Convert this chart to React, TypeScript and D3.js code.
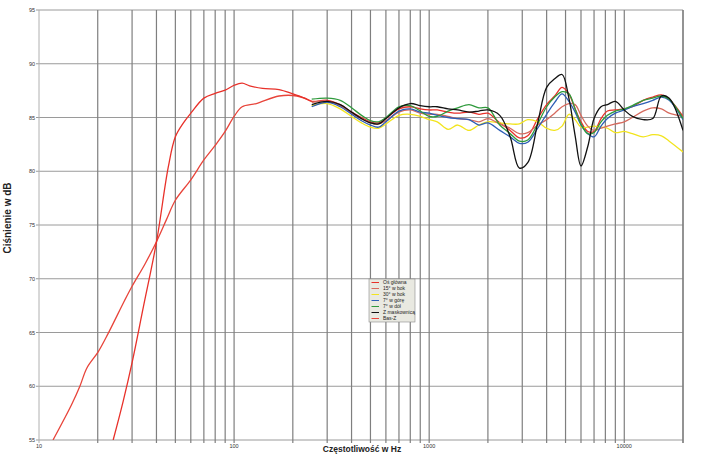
import React from "react";
import * as d3 from "d3";

// ---- data ----
const seriesNames = ["Oś główna", "15° w bok", "30° w bok", "7° w górę", "7° w dół", "Z maskownicą", "Bas-Z"];
const seriesColors = ["#e8312a", "#d66a5e", "#f2e41e", "#2d5eb5", "#2f9a3c", "#111111", "#e8443a"];

// low-frequency parts (red curves)
const bassMainFreqs = [24, 27, 30, 34.3, 40, 46, 50, 55, 60, 70, 80, 90, 100, 110, 120, 140, 170, 200, 230, 250];
const bassMainDb = [55, 58.6, 62.2, 67.4, 73.4, 80.4, 83.2, 84.5, 85.4, 86.8, 87.25, 87.55, 88.0, 88.2, 87.95, 87.7, 87.6, 87.2, 86.8, 86.5];
const bassZFreqs = [11.8, 14.7, 16.2, 17.6, 20.1, 22.6, 27.5, 30, 35, 40, 45, 50, 60, 70, 80, 90, 100, 110, 130, 170, 210, 250];
const bassZDb = [55, 58.3, 60.0, 61.7, 63.2, 64.9, 68.0, 69.3, 71.4, 73.45, 75.5, 77.3, 79.2, 81.05, 82.4, 83.7, 85.1, 86.0, 86.3, 87.0, 87.0, 86.5];

// measurement grid above 250 Hz
const freqs = [250, 300, 350, 400, 450, 500, 550, 600, 700, 800, 900, 1000, 1100, 1250, 1400, 1600, 1800, 2000, 2300, 2600, 2900, 3200, 3600, 4000, 4400, 4800, 5200, 5600, 6000, 6500, 7000, 7600, 8200, 9000, 10000, 11000, 12500, 14000, 15500, 17000, 20000];
const osGlowna = [86.5, 86.6, 86.2, 85.5, 85.0, 84.6, 84.5, 84.9, 85.8, 86.0, 85.8, 85.7, 85.7, 85.5, 85.4, 85.5, 85.3, 85.4, 84.5, 83.8, 83.1, 83.3, 84.9, 86.2, 87.0, 87.8, 87.2, 85.8, 84.6, 83.7, 83.7, 84.9, 85.6, 85.7, 85.8, 86.0, 86.6, 86.9, 87.1, 86.7, 85.1];
const bok15 = [86.4, 86.5, 86.1, 85.4, 84.9, 84.5, 84.4, 84.7, 85.5, 85.7, 85.4, 85.3, 85.3, 85.1, 84.9, 84.8, 84.6, 84.9, 84.4, 84.0, 83.5, 83.6, 84.3, 84.8, 85.4, 86.0, 86.3, 86.2, 85.2, 84.2, 83.8, 84.0, 84.2, 84.4, 84.6, 85.0, 85.6, 85.9, 85.8, 85.4, 85.1];
const bok30 = [86.1, 86.3, 85.8, 85.1, 84.5, 84.1, 84.0, 84.4, 85.2, 85.3, 85.1, 84.8, 84.6, 83.9, 84.3, 83.8, 84.3, 84.6, 84.5, 84.4, 84.4, 84.8, 84.6, 84.0, 83.8, 84.2, 85.3, 84.8, 84.1, 84.1, 84.2, 84.1, 84.0, 83.6, 83.7, 83.5, 83.2, 83.4, 83.3, 82.8, 81.8];
const gora7 = [86.0, 86.4, 86.0, 85.3, 84.7, 84.3, 84.1, 84.6, 85.6, 85.8, 85.5, 85.4, 85.2, 85.0, 84.9, 84.8, 84.3, 84.5, 83.8, 83.2, 82.6, 82.7, 84.0, 85.3, 86.4, 87.2, 86.5, 85.5, 84.3, 83.5, 83.2, 84.2, 84.9, 85.4, 85.7, 86.0, 86.3, 86.6, 86.9, 86.6, 84.8];
const dol7 = [86.7, 86.8, 86.6, 85.9, 85.2, 84.7, 84.6, 85.0, 86.0, 86.1, 85.6, 85.1, 85.1, 85.6, 85.9, 86.2, 85.9, 85.9, 84.3, 83.5, 82.8, 82.9, 84.4, 86.0, 86.9, 87.4, 87.2, 85.8, 84.4, 83.5, 83.6, 84.6, 85.2, 85.6, 85.8, 86.1, 86.6, 86.8, 87.0, 86.7, 84.9];
const maskownica = [86.2, 86.5, 86.2, 85.5, 84.9, 84.5, 84.4, 84.9, 85.9, 86.3, 86.1, 86.0, 86.0, 85.8, 85.7, 85.5, 85.6, 85.7, 85.2, 83.2, 80.3, 80.8, 84.5, 87.8, 88.6, 89.0, 86.8, 83.3, 80.5, 82.3, 84.9, 86.0, 86.2, 86.5, 85.7, 85.1, 84.8, 84.9, 87.0, 86.8, 83.8];

const yTicks = [55, 60, 65, 70, 75, 80, 85, 90, 95];
const xTickLabels = [10, 100, 1000, 10000];
const gridDecades = [10, 100, 1000, 10000];

// ---- layout ----
const W = 708;
const H = 454;
const x = d3.scaleLog().domain([10, 20000]).range([39, 683]);
const y = d3.scaleLinear().domain([55, 95]).range([440, 10]);

type P = [number, number];

const zip = (f: number[], v: number[]): P[] => f.map((fr, i) => [fr, v[i]] as P);

const seriesData: P[][] = [
  [...zip(bassMainFreqs, bassMainDb).slice(0, -1), ...zip(freqs, osGlowna)],
  zip(freqs, bok15),
  zip(freqs, bok30),
  zip(freqs, gora7),
  zip(freqs, dol7),
  zip(freqs, maskownica),
  zip(bassZFreqs, bassZDb),
];

const drawOrder = [6, 0, 2, 1, 3, 4, 5];

export default function App() {
  const line = d3
    .line<P>()
    .x((d) => x(d[0]))
    .y((d) => y(d[1]))
    .curve(d3.curveCatmullRom.alpha(0.5));

  const vGrid: number[] = [];
  gridDecades.forEach((dec) => {
    for (let k = 1; k <= 9; k++) {
      const f = dec * k;
      if (f <= 20000) vGrid.push(f);
    }
  });
  vGrid.push(20000);

  const font = "'Liberation Sans', Arial, sans-serif";
  const legendX = 369;
  const legendY = 279;

  return (
    <svg
      width={W}
      height={H}
      viewBox={`0 0 ${W} ${H}`}
      style={{ position: "absolute", left: 0, top: 0, background: "#fff" }}
      fontFamily={font}
    >
      <defs>
        <clipPath id="plot">
          <rect x={39} y={10} width={644} height={430} />
        </clipPath>
      </defs>
      {/* horizontal grid */}
      {yTicks.map((t) => (
        <line key={"h" + t} x1={36} x2={683} y1={y(t)} y2={y(t)} stroke="#9a9a9a" strokeWidth={1} />
      ))}
      {/* vertical grid */}
      {vGrid.map((f) => (
        <line
          key={"v" + f}
          x1={x(f)}
          x2={x(f)}
          y1={10}
          y2={443}
          stroke={f === 10 ? "#b0b0b0" : "#7f7f7f"}
          strokeWidth={f === 10 ? 1 : 1.2}
        />
      ))}
      {/* y tick labels */}
      {yTicks.map((t) => (
        <text key={"yl" + t} x={35} y={y(t) + 2} fontSize={5.5} textAnchor="end" fill="#333">
          {t}
        </text>
      ))}
      {/* x tick labels */}
      {xTickLabels.map((t) => (
        <text key={"xl" + t} x={x(t)} y={448} fontSize={5.5} textAnchor="middle" fill="#333">
          {t}
        </text>
      ))}
      {/* curves */}
      <g clipPath="url(#plot)">
        {drawOrder.map((i) => (
          <path
            key={"s" + i}
            d={line(seriesData[i]) || ""}
            fill="none"
            stroke={seriesColors[i]}
            strokeWidth={1.3}
          />
        ))}
      </g>
      {/* legend */}
      <rect x={legendX} y={legendY} width={46} height={43} fill="#e9e9e1" stroke="#8a8a8a" strokeWidth={0.6} />
      {seriesNames.map((n, i) => (
        <g key={"lg" + i}>
          <line
            x1={legendX + 2.5}
            x2={legendX + 10}
            y1={legendY + 3.5 + i * 6}
            y2={legendY + 3.5 + i * 6}
            stroke={seriesColors[i]}
            strokeWidth={1}
          />
          <text x={legendX + 14} y={legendY + 5.3 + i * 6} fontSize={5} fill="#222">
            {n}
          </text>
        </g>
      ))}
      {/* axis titles */}
      <text x={362} y={452} fontSize={8.5} fontWeight="bold" textAnchor="middle" fill="#222">
        Częstotliwość w Hz
      </text>
      <text
        transform="translate(11,218) rotate(-90)"
        fontSize={10}
        fontWeight="bold"
        textAnchor="middle"
        fill="#222"
      >
        Ciśnienie w dB
      </text>
    </svg>
  );
}
